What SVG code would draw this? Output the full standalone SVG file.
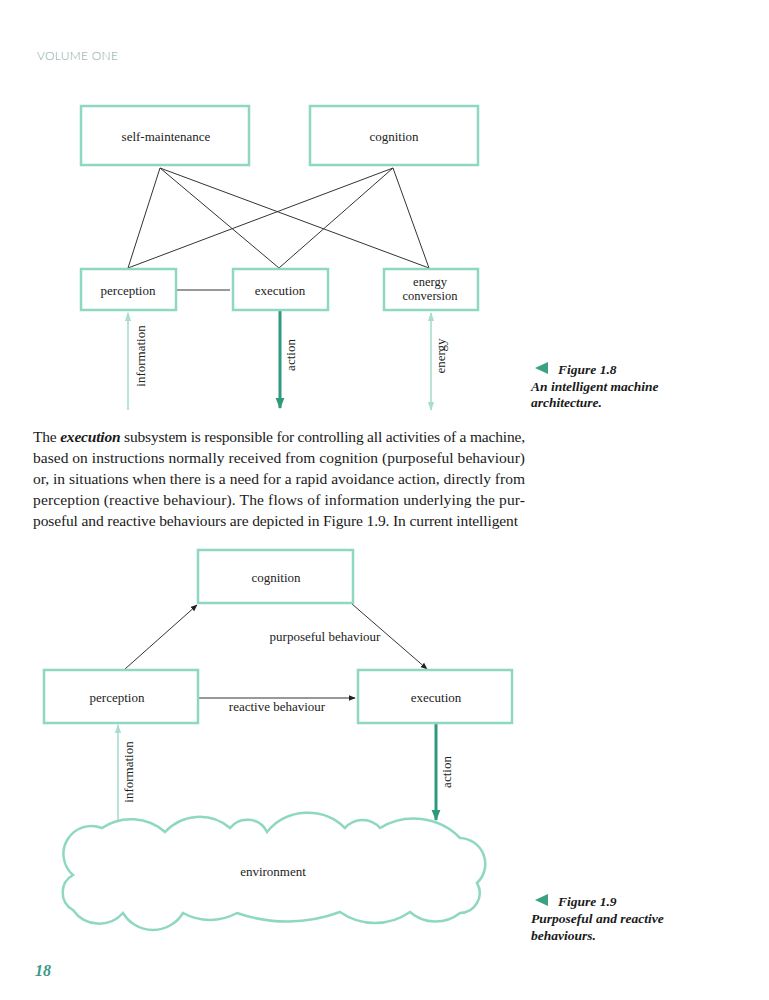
<svg xmlns="http://www.w3.org/2000/svg" width="769" height="1000" viewBox="0 0 769 1000">
<style>
.box{fill:#fff;stroke:#8ed8c3;stroke-width:2.5}
.lbl{font-family:"Liberation Serif",serif;font-size:13px;fill:#222;text-anchor:middle}
.sm{font-size:12.5px}
.ln{stroke:#333;stroke-width:1;fill:none}
.info{stroke:#a9dece;stroke-width:1.6;fill:none}
.act{stroke:#2f9a7b;stroke-width:3;fill:none}
.body{font-family:"Liberation Serif",serif;font-size:15.5px;fill:#1a1a1a}
.cap{font-family:"Liberation Serif",serif;font-size:13.5px;font-weight:bold;font-style:italic;fill:#1a1a1a}
.tri{fill:#3aa283}
.cloud{fill:#fff;stroke:#8ed8c3;stroke-width:2.5}
</style>
<defs>
<marker id="ah" viewBox="0 0 10 10" refX="9" refY="5" markerWidth="7" markerHeight="7" markerUnits="userSpaceOnUse" orient="auto"><path d="M0,1 L10,5 L0,9 z" fill="#222"/></marker>
<marker id="ahi" viewBox="0 0 10 10" refX="9" refY="5" markerWidth="9" markerHeight="9" markerUnits="userSpaceOnUse" orient="auto-start-reverse"><path d="M0,1.5 L10,5 L0,8.5 z" fill="#a9dece"/></marker>
<marker id="aha" viewBox="0 0 10 10" refX="9" refY="5" markerWidth="11" markerHeight="11" markerUnits="userSpaceOnUse" orient="auto"><path d="M0,1 L10,5 L0,9 z" fill="#2f9a7b"/></marker>
</defs>

<text x="37" y="60" style="font-family:Lato,'Liberation Sans',sans-serif;font-size:12px;font-weight:300;fill:#7fa9a4;letter-spacing:0.3px">VOLUME ONE</text>

<!-- Figure 1.8 -->
<g id="connectors-18">
<line class="ln" x1="160" y1="168" x2="128" y2="268"/>
<line class="ln" x1="160" y1="168" x2="279" y2="268"/>
<line class="ln" x1="160" y1="168" x2="429" y2="268"/>
<line class="ln" x1="393" y1="168" x2="128" y2="268"/>
<line class="ln" x1="393" y1="168" x2="279" y2="268"/>
<line class="ln" x1="393" y1="168" x2="429" y2="268"/>
<line class="ln" x1="175" y1="290" x2="230" y2="290"/>
<line class="info" x1="128" y1="410" x2="128" y2="313" marker-end="url(#ahi)"/>
<line class="act" x1="280" y1="311" x2="280" y2="408" marker-end="url(#aha)"/>
<line class="info" x1="431" y1="410" x2="431" y2="313" marker-start="url(#ahi)" marker-end="url(#ahi)"/>
</g>
<g id="n18-selfmaint"><rect class="box" x="81" y="106" width="168" height="59"/><text class="lbl" x="166" y="141">self-maintenance</text></g>
<g id="n18-cognition"><rect class="box" x="310" y="106" width="168" height="59"/><text class="lbl" x="394" y="141">cognition</text></g>
<g id="n18-perception"><rect class="box" x="81" y="269" width="95" height="41"/><text class="lbl" x="128" y="295">perception</text></g>
<g id="n18-execution"><rect class="box" x="233" y="269" width="95" height="41"/><text class="lbl" x="280" y="295">execution</text></g>
<g id="n18-energy"><rect class="box" x="384" y="269" width="94" height="41"/><text class="lbl sm" x="430" y="285.5">energy</text><text class="lbl sm" x="430" y="300">conversion</text></g>
<g id="labels-18">
<text class="lbl" transform="translate(145,356) rotate(-90)">information</text>
<text class="lbl" transform="translate(295,355) rotate(-90)">action</text>
<text class="lbl" transform="translate(445,356) rotate(-90)">energy</text>
</g>
<g id="caption-18">
<path class="tri" d="M535,368 L548,362 L548,374 z"/>
<text class="cap" x="558" y="374">Figure 1.8</text>
<text class="cap" x="531" y="391">An intelligent machine</text>
<text class="cap" x="531" y="407">architecture.</text>
</g>

<!-- Body text -->
<g id="body">
<text class="body" x="33" y="442" textLength="492" lengthAdjust="spacing">The <tspan font-weight="bold" font-style="italic">execution</tspan> subsystem is responsible for controlling all activities of a machine,</text>
<text class="body" x="33" y="463" textLength="492" lengthAdjust="spacing">based on instructions normally received from cognition (purposeful behaviour)</text>
<text class="body" x="33" y="484" textLength="492" lengthAdjust="spacing">or, in situations when there is a need for a rapid avoidance action, directly from</text>
<text class="body" x="33" y="505" textLength="492" lengthAdjust="spacing">perception (reactive behaviour). The flows of information underlying the pur-</text>
<text class="body" x="33" y="526" textLength="485" lengthAdjust="spacing">poseful and reactive behaviours are depicted in Figure 1.9. In current intelligent</text>
</g>

<!-- Figure 1.9 -->
<g id="n19-cloud">
<path class="cloud" d="M73,875 A28,28 0 0 1 102,828 A52,52 0 0 1 165,832 A47,47 0 0 1 230,828 A22,22 0 0 1 267,832 A53,53 0 0 1 345,828 A23,23 0 0 1 380,828 A65,65 0 0 1 460,838 A26,26 0 0 1 477,883 A20,20 0 0 1 460,913 A39,39 0 0 1 410,912 A61,61 0 0 1 340,912 A152,152 0 0 1 237,913 A56,56 0 0 1 183,913 A35,35 0 0 1 123,913 A32,32 0 0 1 73,910 A20,20 0 0 1 73,875 z"/>
<text class="lbl" x="273" y="876">environment</text>
</g>
<g id="connectors-19">
<line class="ln" x1="125" y1="669" x2="197" y2="605" marker-end="url(#ah)"/>
<line class="ln" x1="352" y1="604" x2="427" y2="669" marker-end="url(#ah)"/>
<line class="ln" x1="198" y1="698" x2="355" y2="698" marker-end="url(#ah)"/>
<line class="info" x1="118" y1="820" x2="118" y2="725" marker-end="url(#ahi)"/>
<line class="act" x1="436" y1="724" x2="436" y2="820" marker-end="url(#aha)"/>
<text class="lbl" x="325" y="641">purposeful behaviour</text>
<text class="lbl" x="277" y="711">reactive behaviour</text>
<text class="lbl" transform="translate(133,772) rotate(-90)">information</text>
<text class="lbl" transform="translate(451,772) rotate(-90)">action</text>
</g>
<g id="n19-cognition"><rect class="box" x="198" y="550" width="155" height="53"/><text class="lbl" x="276" y="582">cognition</text></g>
<g id="n19-perception"><rect class="box" x="44" y="670" width="154" height="53"/><text class="lbl" x="117" y="702">perception</text></g>
<g id="n19-execution"><rect class="box" x="358" y="670" width="154" height="53"/><text class="lbl" x="436" y="702">execution</text></g>
<g id="caption-19">
<path class="tri" d="M535,900 L548,894 L548,906 z"/>
<text class="cap" x="558" y="906">Figure 1.9</text>
<text class="cap" x="531" y="923">Purposeful and reactive</text>
<text class="cap" x="531" y="940">behaviours.</text>
</g>

<text x="35" y="976" style="font-family:'Liberation Serif',serif;font-size:16px;font-weight:bold;font-style:italic;fill:#3a9a86">18</text>
</svg>
